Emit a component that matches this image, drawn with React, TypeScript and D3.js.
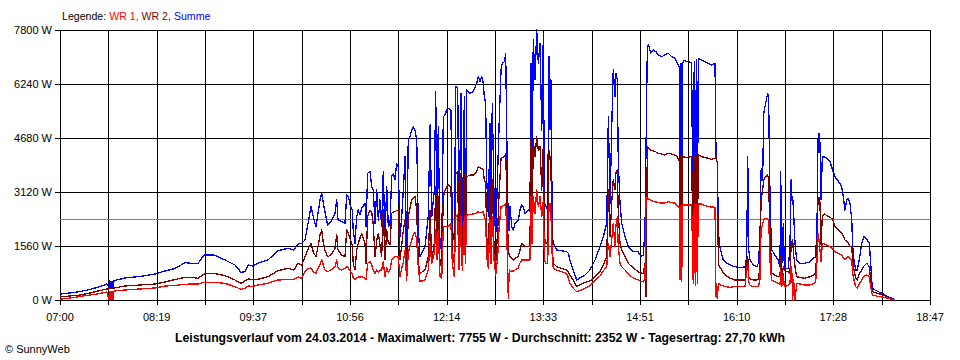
import React from "react";
import * as d3 from "d3";

// minutes after 07:00
const TIMES = [
  0, 8.1, 16.3, 24.4, 32.5, 38.2, 39.8, 40.6, 41.4, 42.3,
  43.1, 43.9, 52.8, 65, 77.2, 85.3, 93.5, 101.6, 107.3, 112.1,
  117, 125.1, 134.1, 142.2, 147.1, 150.3, 152.8, 156.8, 160.9, 169,
  177.1, 185.3, 190.2, 193.4, 196.4, 199.1, 201.8, 204, 205.8, 208,
  209.9, 211.3, 212.7, 214, 215.3, 217.5, 220.2, 223.5, 224.9, 225.9,
  228.9, 231.6, 233, 234.3, 236.2, 237.5, 238.3, 239.7, 241.1, 242.4,
  243.8, 245.2, 247.9, 248.7, 250, 251.9, 253.3, 254.6, 256, 257.4,
  258.7, 260, 261.4, 262.7, 264.1, 265.5, 266.8, 268.2, 269.5, 270.9,
  272.2, 273.6, 274.9, 276.3, 277.7, 279, 280.4, 281.7, 283, 284.4,
  285.8, 287.1, 288.5, 289.9, 291.2, 292.6, 296.6, 299.3, 300.7, 302.1,
  304.2, 305.3, 306.4, 307.4, 308.8, 310.2, 311.5, 312.9, 314.2, 315.5,
  317.7, 318.8, 320.4, 321.6, 323.2, 324.2, 325.9, 326.9, 328.6, 329.4,
  330.5, 333.2, 335.9, 338.6, 339.9, 341.3, 342.7, 344, 344.8, 345.9,
  346.8, 348.1, 349.4, 350.2, 351.3, 352.9, 354.1, 355.7, 356.7, 358.4,
  359.4, 361.1, 362.2, 363, 364.3, 365.1, 365.7, 367.1, 368.4, 369.8,
  372.4, 373.8, 375.2, 376.5, 377.9, 380.6, 381.9, 382.8, 383.6, 384.6,
  386, 387.4, 388.7, 390.1, 391.5, 392.8, 393.6, 395, 396.3, 397.4,
  398.2, 399, 400.1, 400.9, 403.6, 407.7, 411.8, 413.1, 414.4, 417.1,
  419.9, 422.6, 426.6, 430.7, 434.8, 438.8, 441.5, 444.3, 445.6, 447,
  448.3, 449.6, 451, 451.8, 452.9, 453.7, 455.1, 456.5, 459.1, 461.8,
  465.9, 469.9, 472.1, 474, 475.4, 476.2, 477.3, 478.4, 480, 482.2,
  484.3, 486.2, 489, 491.6, 494.3, 497.1, 499.8, 501.6, 503.3, 503.8,
  504.7, 505.2, 506, 507.1, 509.3, 511.4, 513.3, 514.6, 515.4, 516.3,
  517.1, 517.9, 518.7, 521.5, 524.2, 526.8, 529.6, 532.3, 533.1, 534.2,
  535, 535.8, 536.9, 539, 541.8, 544.5, 548.5, 554, 556.7, 558,
  558.9, 559.7, 560.7, 563.4, 566.2, 567.5, 568.8, 569.7, 570.5, 571,
  571.9, 572.9, 574, 575.1, 575.9, 576.4, 577.2, 578.4, 581, 583.7,
  585.1, 585.7, 586.5, 587.8, 588.6, 589.7, 591.9, 593.2, 594.1, 594.6,
  595.4, 596.2, 597.3, 598.7, 601.4, 605.4, 609.5, 612.2, 614.1, 615.2,
  616, 616.8, 617.6, 618.4, 619.5, 621.1, 623.1, 625.7, 627.9, 629.8,
  632.5, 635.2, 636.5, 637.9, 639.3, 640.6, 642, 643.4, 644.2, 645.2,
  646.6, 647.9, 649.5, 651.5, 653.4, 655.6, 657.7, 658.8, 660.1, 662.3,
  665, 667.8, 670.4, 673.1, 675.9, 678.6,
];

// Summe (W)
const SUMME = [
  173, 202, 246, 303, 390, 462, 347, 549, 347, 549,
  347, 558, 636, 679, 751, 838, 910, 1078, 1060, 1054,
  1300, 1300, 1156, 1011, 800, 818, 1011, 982, 1060, 1156,
  1424, 1494, 1444, 1618, 1638, 1733, 2262, 2695, 2406, 2118,
  2551, 2889, 3082, 2794, 2551, 2167, 2262, 2505, 2889, 2311,
  2262, 2216, 3033, 2984, 2695, 2600, 2022, 1638, 2406, 2600,
  2456, 2649, 2794, 2118, 3660, 3707, 3273, 3178, 2216, 3178,
  2311, 2889, 2118, 3707, 1829, 3273, 2118, 2216, 3562, 3660,
  3467, 3949, 3851, 1829, 2406, 3178, 4140, 1098, 4622, 4718,
  4911, 5006, 4911, 4622, 2022, 1251, 1540, 2427, 5056, 2406,
  3178, 6018, 2600, 5006, 1540, 1444, 5295, 5344, 5489, 5538,
  5489, 2022, 1733, 6162, 6116, 2022, 5971, 1829, 5873, 1829,
  6067, 5971, 6018, 6260, 6451, 6307, 6451, 6260, 5873, 5682,
  3467, 2406, 5105, 2600, 5682, 2600, 1829, 3756, 4911, 6644,
  6838, 6884, 7127, 4911, 2022, 2022, 2695, 2118, 2022, 2216,
  2311, 2600, 2744, 2695, 2505, 2600, 2551, 6838, 2984, 7511,
  6356, 7800, 6838, 7416, 4911, 7704, 2794, 2695, 2600, 7029,
  4911, 6356, 1829, 1638, 1444, 1424, 1395, 1349, 1156, 867,
  578, 644, 722, 867, 1156, 1540, 1829, 2216, 5295, 2794,
  4911, 6644, 5873, 6549, 6356, 3949, 2794, 2216, 1829, 1540,
  1395, 1395, 1251, 1300, 2022, 4333, 7318, 7367, 7127, 7222,
  7173, 7078, 7029, 7078, 7127, 7029, 6982, 6838, 6740, 1349,
  6838, 1060, 6838, 6933, 6884, 6884, 6838, 1156, 6884, 1060,
  6933, 1156, 6982, 6933, 6884, 6838, 6789, 6838, 4140, 3949,
  2022, 1638, 1444, 1156, 1060, 1011, 962, 933, 962, 1251,
  4140, 1444, 1156, 1011, 962, 1060, 1733, 3756, 3805, 3467,
  5394, 5584, 5778, 5971, 5778, 4429, 2505, 1444, 1300, 1156,
  962, 3707, 962, 2216, 962, 916, 916, 1540, 3467, 2889,
  2984, 2505, 1638, 1156, 1060, 1060, 1106, 1205, 1251, 2167,
  4622, 4816, 4527, 2889, 4131, 4131, 4094, 3995, 3756, 3553,
  3438, 3273, 2984, 2600, 2889, 2938, 2794, 2311, 1540, 1156,
  867, 867, 1156, 1638, 1829, 1754, 1638, 1060, 338, 289,
  240, 194, 144, 95, 49, 0,
];

// WR 2 (W)
const WR2 = [
  95, 116, 144, 202, 274, 318, 318, 332, 332, 332,
  332, 347, 404, 433, 462, 520, 592, 656, 650, 627,
  751, 771, 702, 578, 482, 549, 607, 592, 598, 673,
  846, 916, 867, 1069, 1011, 1250, 1494, 1638, 1395, 1251,
  1589, 1878, 2022, 1638, 1444, 1251, 1300, 1494, 1878, 1444,
  1300, 1251, 2022, 1936, 1733, 1589, 1060, 867, 1444, 1638,
  1791, 1927, 1638, 1060, 2406, 2600, 2542, 2167, 1251, 1733,
  1927, 1589, 1251, 2600, 1156, 2022, 1638, 1589, 2505, 2542,
  2551, 2586, 2600, 1156, 1589, 2022, 2311, 867, 2406, 2658,
  2889, 2947, 2984, 2600, 1060, 771, 867, 1251, 2600, 1156,
  1638, 3273, 1638, 2984, 1060, 962, 2984, 3178, 3264, 3322,
  3273, 1444, 1060, 3660, 3707, 1251, 3660, 1060, 3611, 1251,
  3562, 3611, 3611, 3707, 3851, 3813, 3805, 3756, 3467, 3371,
  1829, 1156, 3273, 1251, 3467, 1251, 1060, 2022, 2984, 4094,
  4117, 4140, 4238, 3178, 1444, 1300, 1251, 1213, 1156, 1213,
  1251, 1444, 1638, 1589, 1540, 1540, 1540, 4622, 2022, 4622,
  4140, 4718, 4333, 4429, 3178, 4527, 1829, 1638, 1638, 4333,
  4140, 3756, 1444, 1060, 962, 916, 867, 809, 722, 578,
  384, 448, 506, 549, 673, 818, 1011, 1251, 3178, 1829,
  2794, 3467, 3178, 3698, 3756, 2505, 1638, 1444, 1251, 1060,
  924, 818, 780, 771, 1060, 95, 4429, 4391, 4333, 4304,
  4276, 4238, 4218, 4189, 4238, 4218, 4189, 4131, 3995, 1349,
  4140, 1251, 4140, 4131, 4122, 4131, 4140, 1156, 4140, 1060,
  4140, 1156, 4189, 4140, 4117, 4094, 4065, 4094, 4140, 3949,
  1060, 982, 916, 771, 693, 627, 578, 578, 578, 1156,
  1251, 673, 607, 578, 578, 598, 962, 2889, 3082, 3178,
  3467, 3539, 3562, 3611, 3467, 2695, 1733, 771, 722, 673,
  673, 1251, 673, 962, 867, 838, 809, 771, 1540, 1647,
  1733, 1300, 962, 673, 650, 627, 673, 722, 771, 1589,
  2938, 2976, 2794, 1589, 2406, 2484, 2441, 2398, 2326, 2118,
  2022, 1927, 1849, 1733, 1704, 1647, 1540, 1540, 1156, 867,
  627, 578, 751, 867, 982, 1060, 962, 578, 240, 217,
  188, 159, 116, 72, 29, 0,
];

// WR 1 (W)
const WR1 = [
  20, 58, 101, 144, 188, 231, 0, 240, 0, 246,
  0, 260, 289, 318, 347, 404, 419, 454, 462, 462,
  511, 511, 482, 384, 309, 332, 404, 390, 433, 482,
  578, 592, 598, 664, 627, 818, 916, 924, 809, 771,
  924, 1040, 1156, 1011, 867, 818, 867, 962, 1156, 924,
  867, 916, 962, 924, 809, 751, 636, 578, 636, 664,
  664, 673, 627, 578, 1060, 1106, 1011, 867, 771, 867,
  809, 867, 867, 1098, 673, 924, 809, 867, 1156, 1213,
  1251, 1251, 1242, 673, 924, 1098, 1444, 578, 1349, 1560,
  1733, 1878, 1964, 1733, 924, 529, 578, 867, 1638, 1060,
  1349, 2022, 1156, 2022, 673, 627, 2118, 2118, 2118, 2118,
  2216, 1060, 673, 2406, 2456, 867, 2406, 867, 2406, 1060,
  2456, 2470, 2484, 2513, 2551, 2528, 2522, 2551, 2406, 2311,
  1251, 916, 2311, 1060, 2406, 1060, 722, 1251, 2022, 2695,
  2716, 2744, 2794, 2022, 58, 867, 818, 838, 838, 867,
  924, 1069, 1156, 1156, 1156, 1156, 1156, 2984, 1638, 2984,
  2505, 3178, 2695, 2984, 2406, 2889, 1156, 1060, 1060, 2744,
  2794, 2456, 1156, 916, 867, 818, 771, 636, 491, 338,
  240, 274, 338, 419, 563, 693, 838, 962, 1638, 1251,
  1733, 2216, 1540, 2167, 2406, 1540, 1060, 962, 867, 751,
  636, 578, 534, 520, 627, 2947, 2938, 2918, 2889, 2840,
  2831, 2811, 2802, 2802, 2840, 2817, 2794, 2730, 2649, 578,
  2744, 529, 2744, 2744, 2744, 2744, 2744, 482, 2744, 433,
  2773, 482, 2773, 2773, 2730, 2695, 2687, 2678, 95, 49,
  482, 462, 433, 404, 384, 367, 390, 384, 384, 867,
  1060, 529, 433, 384, 384, 384, 578, 2022, 2118, 2196,
  2311, 2360, 2360, 2360, 2253, 1829, 962, 578, 534, 482,
  433, 867, 384, 771, 384, 384, 433, 482, 962, 962,
  0, 578, 0, 482, 462, 433, 433, 477, 520, 1156,
  1927, 1733, 1444, 1098, 1638, 1618, 1589, 1540, 1473, 1387,
  1349, 1300, 1228, 1156, 1213, 1251, 1199, 1156, 771, 578,
  384, 338, 462, 578, 693, 722, 673, 384, 144, 130,
  101, 87, 72, 49, 20, 0,
];

const X_TICK_LABELS = ["07:00", "08:19", "09:37", "10:56", "12:14", "13:33", "14:51", "16:10", "17:28", "18:47"];
const Y_TICKS = [0, 1560, 3120, 4680, 6240, 7800];
const TOTAL_MINUTES = 707;
const GRID_DIVISIONS = 18;
const AVERAGE = 2352;
const TITLE = "Leistungsverlauf vom 24.03.2014 - Maximalwert: 7755 W - Durchschnitt: 2352 W - Tagesertrag: 27,70 kWh";

const SERIES = [
  { name: "Summe", values: SUMME, color: "#0000ff" },
  { name: "WR 2", values: WR2, color: "#800000" },
  { name: "WR 1", values: WR1, color: "#ff0000" },
];

export default function App() {
  const W = 960;
  const H = 360;
  const left = 60, right = 930, top = 30, bottom = 300;
  const x = d3.scaleLinear().domain([0, TOTAL_MINUTES]).range([left, right]);
  const y = d3.scaleLinear().domain([0, 7800]).range([bottom, top]);
  const gridMinutes = d3.range(GRID_DIVISIONS + 1).map((i) => (i * TOTAL_MINUTES) / GRID_DIVISIONS);
  const crisp = (v: number) => Math.round(v) + 0.5;
  const font = "'Liberation Sans', Arial, sans-serif";

  return (
    <svg width={W} height={H} style={{ position: "absolute", left: 0, top: 0, background: "#fff" }}>
      <rect x={0} y={0} width={W} height={H} fill="#fff" />
      {/* legend */}
      <text x={62} y={20} fontFamily={font} fontSize={10.6}>
        <tspan fill="#000">Legende: </tspan>
        <tspan fill="#ff0000">WR 1, </tspan>
        <tspan fill="#800000">WR 2, </tspan>
        <tspan fill="#0000ff">Summe</tspan>
      </text>
      {/* grid */}
      <g shapeRendering="crispEdges" stroke="#000" strokeWidth={1}>
        {gridMinutes.map((m, i) => (
          <line key={"v" + i} x1={crisp(x(m))} x2={crisp(x(m))} y1={top} y2={bottom + 5} />
        ))}
        {Y_TICKS.map((v) => (
          <line key={"h" + v} x1={left - 5} x2={right} y1={crisp(y(v))} y2={crisp(y(v))} />
        ))}
      </g>
      {/* average */}
      <line x1={left} x2={right} y1={crisp(y(AVERAGE))} y2={crisp(y(AVERAGE))} stroke="#808080" strokeWidth={1} shapeRendering="crispEdges" />
      {/* y labels */}
      {Y_TICKS.map((v) => (
        <text key={"yl" + v} x={52} y={y(v) + 4} textAnchor="end" fontFamily={font} fontSize={11} fill="#000">
          {v + " W"}
        </text>
      ))}
      {/* x labels */}
      {X_TICK_LABELS.map((lab, i) => (
        <text key={"xl" + i} x={x(gridMinutes[i * 2])} y={321} textAnchor="middle" fontFamily={font} fontSize={11} fill="#000">
          {lab}
        </text>
      ))}
      {/* series */}
      {SERIES.map((s) => {
        const line = d3
          .line<number>()
          .x((_, i) => x(TIMES[i]))
          .y((d) => y(d));
        return (
          <path key={s.name} d={line(s.values) || ""} fill="none" stroke={s.color} strokeWidth={1.3} strokeLinejoin="round" shapeRendering="crispEdges" />
        );
      })}
      {/* title */}
      <text x={480} y={342} textAnchor="middle" fontFamily={font} fontSize={12} fontWeight="bold" fill="#000" textLength={610} lengthAdjust="spacingAndGlyphs">
        {TITLE}
      </text>
      <text x={5} y={353} fontFamily={font} fontSize={11} fill="#000">
        © SunnyWeb
      </text>
    </svg>
  );
}
